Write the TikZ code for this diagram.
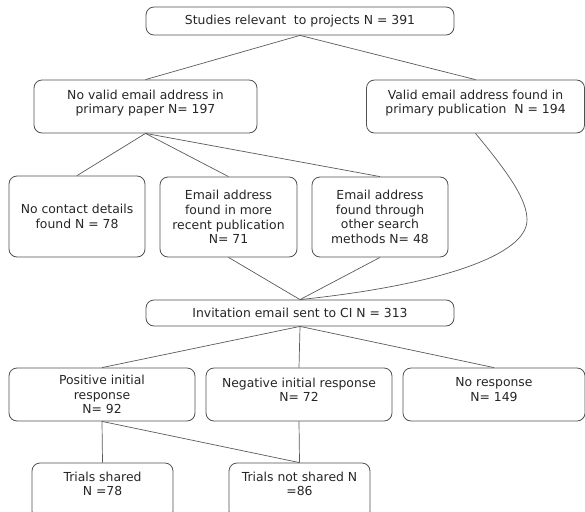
\documentclass[tikz,border=0pt]{standalone}
\usepackage{fontspec}
\setmainfont{DejaVu Sans}
\usetikzlibrary{positioning}
\definecolor{boxgray}{RGB}{80,80,80}
\definecolor{linegray}{RGB}{90,90,90}
\tikzset{box/.style={draw=boxgray,line width=0.8pt,rounded corners=8pt,align=center,inner sep=2pt,text=black!85,font=\fontsize{12.4}{14.7}\selectfont},
  link/.style={draw=linegray,line width=0.7pt}}

\begin{document}
\begin{tikzpicture}[x=1pt,y=-1pt]
	\useasboundingbox (0,0) rectangle (585,511); \clip (0,0) rectangle (585,511);
	\node (studies) [box,minimum width=308pt,minimum height=28pt] at (300,21) {Studies relevant\ \ to projects N = 391};
	\node (novalid) [box,minimum width=223pt,minimum height=53pt] at (145.5,106.5) {No valid email address in\\primary paper N= 197\\[-5pt]};
	\node (valid) [box,minimum width=218pt,minimum height=53pt] at (475.5,106.5) {Valid email address found in\\primary publication\ \ N = 194\\[-5pt]};
	\node (nocontact) [box,minimum width=136pt,minimum height=81pt] at (77,216.5) {No contact details\\found N = 78};
	\node (recent) [box,minimum width=137pt,minimum height=80pt] at (228.5,217) {Email address\\found in more\\recent publication\\N= 71};
	\node (search) [box,minimum width=136pt,minimum height=80pt] at (380,217) {Email address\\found through\\other search\\methods N= 48};
	\node (invite) [box,minimum width=308pt,minimum height=26pt] at (300,313) {Invitation email sent to CI N = 313};
	\node (positive) [box,minimum width=186pt,minimum height=53pt] at (102,394.5) {Positive initial\\response\\N= 92};
	\node (negative) [box,minimum width=186pt,minimum height=53pt] at (299,394.5) {Negative initial response\\N= 72\\[-5pt]};
	\node (noresp) [box,minimum width=182pt,minimum height=53pt] at (494,394.5) {No response\\N= 149\\[-5pt]};
	\node (shared) [box,minimum width=141pt,minimum height=56pt] at (102.5,491) {Trials shared\\N =78\\[0pt]};
	\node (notshared) [box,minimum width=141pt,minimum height=56pt] at (299.5,491) {Trials not shared N\\=86\\[0pt]};
	% connectors
	\draw [link] (studies.south) -- (novalid.north); \draw [link] (studies.south) -- (valid.north);
	\foreach \n in {nocontact,recent,search} \draw [link] (novalid.south) -- (\n.north);
	\draw [link] (recent.south) -- (invite.north); \draw [link] (search.south) -- (invite.north);
	\coordinate (bulge) at (527,220);
	\draw [link] (valid.south) .. controls (510,175) and (527,200) .. (bulge) .. controls (527,255) and (440,285) .. (invite.north);
	\foreach \n in {positive,negative,noresp} \draw [link] (invite.south) -- (\n.north);
	\draw [link] (positive.south) -- (shared.north); \draw [link] (positive.south) -- (notshared.north);
	\draw [link] (negative.south) -- (notshared.north);
\end{tikzpicture}
\end{document}
